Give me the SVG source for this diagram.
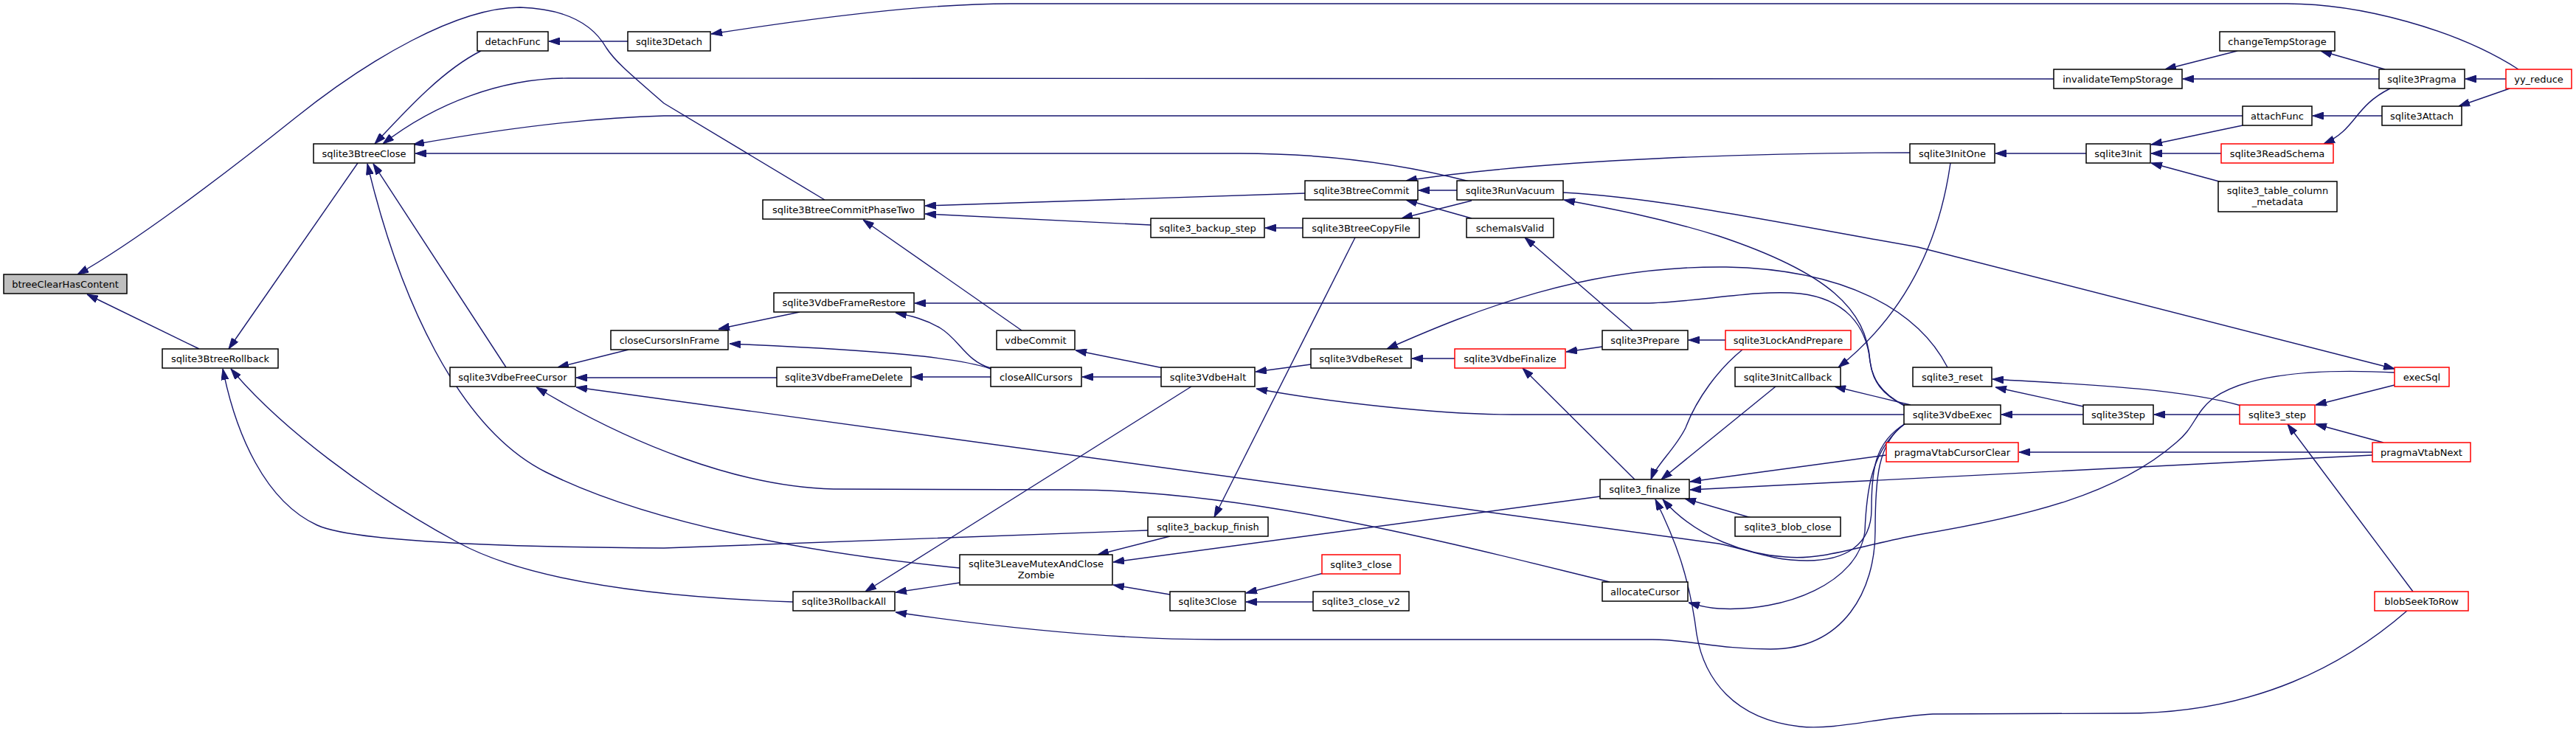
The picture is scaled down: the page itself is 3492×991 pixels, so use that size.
<svg xmlns="http://www.w3.org/2000/svg" width="3492" height="991" viewBox="0 0 3492 991">
<style>
.n rect{fill:#fff;stroke:#000;stroke-width:1.5}
.n.r rect{stroke:#f00}
.n.g rect{fill:#bfbfbf}
.n text{font-family:"DejaVu Sans","Liberation Sans",sans-serif;font-size:13px;text-anchor:middle;fill:#000}
#edges path{fill:none;stroke:#191970;stroke-width:1.4;marker-end:url(#ah)}
</style>
<defs>
<marker id="ah" markerWidth="15" markerHeight="10" refX="15" refY="5" orient="auto" markerUnits="userSpaceOnUse"><path d="M0,0 L15,5 L0,10 z" fill="#191970" stroke="#191970" stroke-width="1"/></marker>
</defs>
<rect width="3492" height="991" fill="#fff"/>
<g id="edges">
<path d="M1118,271 L900,140 C860,105 835,85 822,65 C805,35 770,12 705,10 C620,10 500,80 400,160 C300,240 180,330 105,372"/>
<path d="M270,473 L118,399"/>
<path d="M485,221 L310,473"/>
<path d="M652,69 C600,95 550,150 508,195"/>
<path d="M2784,107 L770,106 C680,106 590,140 519,195"/>
<path d="M3040,157 L900,157 C780,160 650,180 560,196"/>
<path d="M1992,246 C1900,222 1800,208 1680,208 L563,208"/>
<path d="M1301,770 C1100,750 880,710 740,640 C620,580 540,400 498,222"/>
<path d="M686,498 L506,222"/>
<path d="M851,56 L744,56"/>
<path d="M3414,94 C3330,40 3200,5 3100,5 L1370,5 C1250,5 1100,25 964,46"/>
<path d="M852,474 L756,498"/>
<path d="M1385,448 L1170,298"/>
<path d="M1769,262 L1254,279"/>
<path d="M1560,305 L1254,290"/>
<path d="M1766,309 L1715,309"/>
<path d="M1084,423 L974,446"/>
<path d="M2583,551 C2545,530 2538,510 2535,490 C2530,440 2500,405 2440,398 C2380,392 2300,410 2230,411 L1240,411"/>
<path d="M1343,499 C1310,490 1300,460 1275,445 C1255,433 1235,428 1214,424"/>
<path d="M1343,500 C1300,485 1200,475 989,466"/>
<path d="M1574,511 L1467,511"/>
<path d="M1343,511 L1236,511"/>
<path d="M1053,512 L781,512"/>
<path d="M1577,499 L1458,475"/>
<path d="M1777,494 L1702,504"/>
<path d="M2581,562 L2050,562 C1950,562 1800,545 1703,527"/>
<path d="M1615,524 L1173,802"/>
<path d="M1075,816 C900,810 720,790 620,735 C500,670 380,580 313,500"/>
<path d="M1556,719 L900,743 C700,742 480,735 430,712 C360,680 320,590 302,500"/>
<path d="M1837,322 L1646,701"/>
<path d="M1586,727 L1488,752"/>
<path d="M2169,673 L1509,762"/>
<path d="M1586,806 L1509,793"/>
<path d="M1301,790 L1214,803"/>
<path d="M2583,574 C2545,600 2542,650 2542,720 C2542,800 2500,880 2400,880 C2330,880 2290,867 2240,867 L1650,867 C1500,867 1350,850 1214,830"/>
<path d="M2583,574 C2535,610 2530,670 2528,720 C2520,790 2420,830 2330,825 C2310,824 2300,820 2289,817"/>
<path d="M2182,789 C2000,745 1700,664 1450,664 L1130,663 C1000,660 850,600 727,525"/>
<path d="M2583,574 C2540,600 2537,640 2537,690 C2537,740 2500,760 2450,760 C2400,760 2370,745 2330,737 L781,525"/>
<path d="M3246,505 C3150,500 3050,505 3000,540 C2975,560 2975,580 2950,600 C2870,670 2750,700 2600,725 C2520,740 2470,760 2420,755 C2370,752 2300,730 2254,677"/>
<path d="M2362,474 C2330,500 2300,540 2285,580 C2270,610 2245,630 2238,650"/>
<path d="M2407,524 L2252,650"/>
<path d="M2557,617 L2291,653"/>
<path d="M3216,617 L2291,664"/>
<path d="M2374,702 L2284,676"/>
<path d="M3263,828 C3180,900 3060,967 2880,967 L2620,968 C2550,972 2490,990 2440,985 C2350,975 2310,920 2300,860 C2290,780 2270,730 2244,677"/>
<path d="M2216,650 L2064,499"/>
<path d="M1972,486 L1914,486"/>
<path d="M2172,470 L2123,477"/>
<path d="M2339,461 L2289,461"/>
<path d="M2213,448 L2067,322"/>
<path d="M1995,296 L1906,271"/>
<path d="M1975,258 L1923,258"/>
<path d="M2589,207 C2400,207 2100,215 1906,245"/>
<path d="M1995,272 L1900,296"/>
<path d="M2583,550 C2550,535 2538,515 2535,490 C2530,420 2480,370 2330,320 C2250,295 2180,282 2120,271"/>
<path d="M2119,261 C2250,268 2400,300 2600,335 L3246,500"/>
<path d="M2640,498 C2600,420 2500,365 2340,362 C2150,360 2000,420 1880,473"/>
<path d="M2644,221 C2630,320 2590,420 2492,498"/>
<path d="M2590,549 L2487,524"/>
<path d="M3038,550 C2950,525 2800,520 2701,514"/>
<path d="M2824,551 L2705,525"/>
<path d="M2824,562 L2713,562"/>
<path d="M3036,562 L2920,562"/>
<path d="M3246,522 L3139,549"/>
<path d="M3231,600 L3139,575"/>
<path d="M3271,802 L3101,575"/>
<path d="M3216,613 L2737,613"/>
<path d="M2828,208 L2705,208"/>
<path d="M3040,170 L2916,196"/>
<path d="M3011,208 L2916,208"/>
<path d="M3012,247 L2916,221"/>
<path d="M3229,157 L3135,157"/>
<path d="M3402,120 L3333,144"/>
<path d="M3240,120 C3190,145 3195,175 3150,195"/>
<path d="M3225,107 L2959,107"/>
<path d="M3033,69 L2935,94"/>
<path d="M3233,94 L3146,69"/>
<path d="M3397,107 L3342,107"/>
<path d="M1794,777 L1689,804"/>
<path d="M1780,816 L1689,816"/>
</g>
<g id="n1" class="n g"><rect x="5" y="372" width="167" height="26"/><text x="88.5" y="389.5">btreeClearHasContent</text></g>
<g id="n2" class="n"><rect x="425" y="195" width="137" height="26"/><text x="493.5" y="212.5">sqlite3BtreeClose</text></g>
<g id="n3" class="n"><rect x="220" y="473" width="157" height="26"/><text x="298.5" y="490.5">sqlite3BtreeRollback</text></g>
<g id="n4" class="n"><rect x="647" y="43" width="96" height="26"/><text x="695" y="60.5">detachFunc</text></g>
<g id="n5" class="n"><rect x="851" y="43" width="112" height="26"/><text x="907" y="60.5">sqlite3Detach</text></g>
<g id="n6" class="n"><rect x="828" y="448" width="159" height="26"/><text x="907.5" y="465.5">closeCursorsInFrame</text></g>
<g id="n7" class="n"><rect x="610" y="498" width="170" height="26"/><text x="695" y="515.5">sqlite3VdbeFreeCursor</text></g>
<g id="n8" class="n"><rect x="1034" y="271" width="219" height="26"/><text x="1143.5" y="288.5">sqlite3BtreeCommitPhaseTwo</text></g>
<g id="n9" class="n"><rect x="1560" y="296" width="154" height="26"/><text x="1637" y="313.5">sqlite3_backup_step</text></g>
<g id="n10" class="n"><rect x="1049" y="397" width="190" height="26"/><text x="1144" y="414.5">sqlite3VdbeFrameRestore</text></g>
<g id="n11" class="n"><rect x="1351" y="448" width="106" height="26"/><text x="1404" y="465.5">vdbeCommit</text></g>
<g id="n12" class="n"><rect x="1053" y="498" width="182" height="26"/><text x="1144" y="515.5">sqlite3VdbeFrameDelete</text></g>
<g id="n13" class="n"><rect x="1343" y="498" width="123" height="26"/><text x="1404.5" y="515.5">closeAllCursors</text></g>
<g id="n14" class="n"><rect x="1574" y="498" width="127" height="26"/><text x="1637.5" y="515.5">sqlite3VdbeHalt</text></g>
<g id="n15" class="n"><rect x="1556" y="701" width="163" height="26"/><text x="1637.5" y="718.5">sqlite3_backup_finish</text></g>
<g id="n16" class="n"><rect x="1301" y="752" width="207" height="41"/><text x="1404.5" y="768.5">sqlite3LeaveMutexAndClose</text><text x="1404.5" y="784">Zombie</text></g>
<g id="n17" class="n"><rect x="1075" y="802" width="138" height="26"/><text x="1144" y="819.5">sqlite3RollbackAll</text></g>
<g id="n18" class="n"><rect x="1586" y="802" width="102" height="26"/><text x="1637" y="819.5">sqlite3Close</text></g>
<g id="n19" class="n"><rect x="1769" y="245" width="153" height="26"/><text x="1845.5" y="262.5">sqlite3BtreeCommit</text></g>
<g id="n20" class="n"><rect x="1975" y="245" width="144" height="26"/><text x="2047" y="262.5">sqlite3RunVacuum</text></g>
<g id="n21" class="n"><rect x="1766" y="296" width="158" height="26"/><text x="1845" y="313.5">sqlite3BtreeCopyFile</text></g>
<g id="n22" class="n"><rect x="1988" y="296" width="118" height="26"/><text x="2047" y="313.5">schemaIsValid</text></g>
<g id="n23" class="n"><rect x="2589" y="195" width="115" height="26"/><text x="2646.5" y="212.5">sqlite3InitOne</text></g>
<g id="n24" class="n"><rect x="2172" y="448" width="116" height="26"/><text x="2230" y="465.5">sqlite3Prepare</text></g>
<g id="n25" class="n r"><rect x="2339" y="448" width="170" height="26"/><text x="2424" y="465.5">sqlite3LockAndPrepare</text></g>
<g id="n26" class="n"><rect x="1777" y="473" width="136" height="26"/><text x="1845" y="490.5">sqlite3VdbeReset</text></g>
<g id="n27" class="n r"><rect x="1972" y="473" width="150" height="26"/><text x="2047" y="490.5">sqlite3VdbeFinalize</text></g>
<g id="n28" class="n"><rect x="2352" y="498" width="143" height="26"/><text x="2423.5" y="515.5">sqlite3InitCallback</text></g>
<g id="n29" class="n"><rect x="2593" y="498" width="107" height="26"/><text x="2646.5" y="515.5">sqlite3_reset</text></g>
<g id="n30" class="n"><rect x="2581" y="549" width="131" height="26"/><text x="2646.5" y="566.5">sqlite3VdbeExec</text></g>
<g id="n31" class="n r"><rect x="2557" y="600" width="179" height="26"/><text x="2646.5" y="617.5">pragmaVtabCursorClear</text></g>
<g id="n32" class="n"><rect x="2169" y="650" width="121" height="26"/><text x="2229.5" y="667.5">sqlite3_finalize</text></g>
<g id="n33" class="n"><rect x="2352" y="701" width="143" height="26"/><text x="2423.5" y="718.5">sqlite3_blob_close</text></g>
<g id="n34" class="n r"><rect x="1792" y="752" width="106" height="26"/><text x="1845" y="769.5">sqlite3_close</text></g>
<g id="n35" class="n"><rect x="1780" y="802" width="130" height="26"/><text x="1845" y="819.5">sqlite3_close_v2</text></g>
<g id="n36" class="n"><rect x="2172" y="789" width="116" height="26"/><text x="2230" y="806.5">allocateCursor</text></g>
<g id="n37" class="n"><rect x="3009" y="43" width="156" height="26"/><text x="3087" y="60.5">changeTempStorage</text></g>
<g id="n38" class="n"><rect x="2784" y="94" width="174" height="26"/><text x="2871" y="111.5">invalidateTempStorage</text></g>
<g id="n39" class="n"><rect x="3225" y="94" width="116" height="26"/><text x="3283" y="111.5">sqlite3Pragma</text></g>
<g id="n40" class="n r"><rect x="3397" y="94" width="89" height="26"/><text x="3441.5" y="111.5">yy_reduce</text></g>
<g id="n41" class="n"><rect x="3040" y="144" width="94" height="26"/><text x="3087" y="161.5">attachFunc</text></g>
<g id="n42" class="n"><rect x="3229" y="144" width="108" height="26"/><text x="3283" y="161.5">sqlite3Attach</text></g>
<g id="n43" class="n"><rect x="2828" y="195" width="87" height="26"/><text x="2871.5" y="212.5">sqlite3Init</text></g>
<g id="n44" class="n r"><rect x="3011" y="195" width="152" height="26"/><text x="3087" y="212.5">sqlite3ReadSchema</text></g>
<g id="n45" class="n"><rect x="3007" y="246" width="161" height="41"/><text x="3087.5" y="262.5">sqlite3_table_column</text><text x="3087.5" y="278">_metadata</text></g>
<g id="n46" class="n"><rect x="2824" y="549" width="95" height="26"/><text x="2871.5" y="566.5">sqlite3Step</text></g>
<g id="n47" class="n r"><rect x="3036" y="549" width="102" height="26"/><text x="3087" y="566.5">sqlite3_step</text></g>
<g id="n48" class="n r"><rect x="3246" y="498" width="74" height="26"/><text x="3283" y="515.5">execSql</text></g>
<g id="n49" class="n r"><rect x="3216" y="600" width="133" height="26"/><text x="3282.5" y="617.5">pragmaVtabNext</text></g>
<g id="n50" class="n r"><rect x="3219" y="802" width="127" height="26"/><text x="3282.5" y="819.5">blobSeekToRow</text></g>
</svg>
